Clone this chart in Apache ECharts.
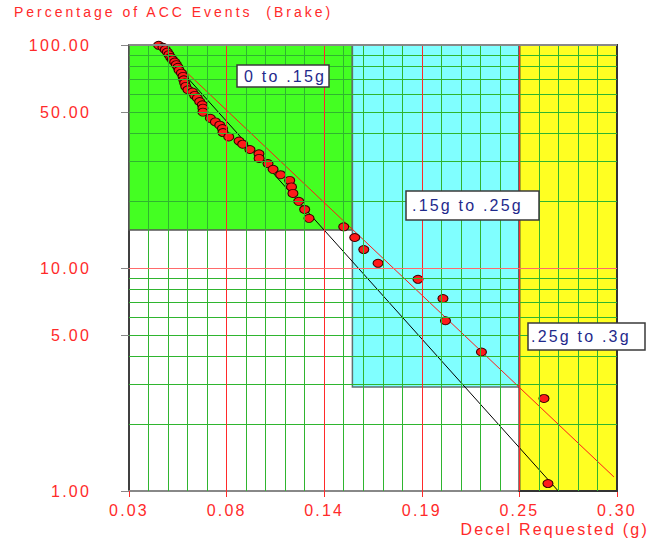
<!DOCTYPE html>
<html>
<head>
<meta charset="utf-8">
<script src="https://cdn.jsdelivr.net/npm/echarts@6/dist/echarts.min.js"></script>
<style>
html,body{margin:0;padding:0;background:#fff;}
#main{width:662px;height:539px;}
#main text{letter-spacing:2.2px;white-space:pre;}
#main text[style*="14px"]{letter-spacing:3px;}
</style>
</head>
<body>
<div id="main"></div>
<script>
// 坐标刻度
var xTicks = [0.03, 0.084, 0.138, 0.192, 0.246, 0.30];
var xMinorPerMajor = 5;
var yLabelValues = [1, 5, 10, 50, 100];
var yMinor = [2, 3, 4, 5, 6, 7, 8, 9, 20, 30, 40, 50, 60, 70, 80, 90];

// 数据点 (减速度 g, 百分比)
var decel = [0.0464, 0.0488, 0.0501, 0.0512, 0.0521, 0.0531, 0.0540, 0.0553, 0.0562, 0.0571,
             0.0577, 0.0590, 0.0599, 0.0603, 0.0608, 0.0614, 0.0626, 0.0651, 0.0664, 0.0678,
             0.0691, 0.0706, 0.0709, 0.0709, 0.0750, 0.0778, 0.0802, 0.0817, 0.0820, 0.0852,
             0.0909, 0.0929, 0.0969, 0.1019, 0.1020, 0.1069, 0.1097, 0.1139, 0.1189, 0.1199,
             0.1207, 0.1239, 0.1272, 0.1296, 0.1488, 0.1549, 0.1599, 0.1678, 0.1899, 0.2037,
             0.2051, 0.2250, 0.2596, 0.2618];
var pct = [99.7, 97.6, 95.3, 93.0, 90.5, 88.0, 85.9, 83.9, 81.6, 79.4,
           77.0, 74.8, 72.3, 69.8, 67.5, 65.2, 63.0, 61.5, 59.4, 57.8,
           55.8, 53.9, 52.1, 50.0, 46.9, 45.2, 43.7, 42.2, 40.5, 38.7,
           37.1, 35.9, 34.0, 32.5, 31.0, 29.4, 27.7, 26.2, 24.7, 23.1,
           21.6, 19.9, 18.3, 16.7, 15.3, 13.7, 12.1, 10.5, 8.9, 7.3,
           5.8, 4.2, 2.6, 1.08];

// 拟合线
var fitBlackX = [0.0461, 0.2675];
var fitBlackY = [100, 1];
var fitRedX = [0.0459, 0.2983];
var fitRedY = [100, 1.156];

// 区域
var zoneLabels = ['0 to .15g', '.15g to .25g', '.25g to .3g'];
var zoneFrom = [0.03, 0.1536, 0.246];
var zoneTo = [0.1536, 0.246, 0.30];
var zoneFloor = [14.8, 2.93, 1];
var zoneTop = 100;

var RED = '#ff2a2a';
var GREEN = '#2fb52f';
var FONT = 'Liberation Sans';
var xMin = xTicks[0], xMax = xTicks[xTicks.length - 1];

var zoneColors = ['#44ff22', '#80ffff', '#ffff22'];
var zoneBorders = ['#555555', '#607070', '#333333'];

function seg(x1, y1, x2, y2, color, width) {
    return [{coord: [x1, y1], lineStyle: {color: color, width: width, type: 'solid'}}, {coord: [x2, y2]}];
}

// 网格线
var gridLines = [];
for (var i = 0; i < xTicks.length - 1; i++) {
    var step = (xTicks[i + 1] - xTicks[i]) / xMinorPerMajor;
    for (var k = 1; k < xMinorPerMajor; k++) {
        var xv = xTicks[i] + step * k;
        gridLines.push(seg(xv, 1, xv, 100, GREEN, 1));
    }
}
yMinor.forEach(function (v) {
    gridLines.push(seg(xMin, v, xMax, v, GREEN, 1));
});
for (var j = 1; j < xTicks.length - 1; j++) {
    gridLines.push(seg(xTicks[j], 1, xTicks[j], 100, RED, 1));
}
gridLines.push(seg(xMin, 10, xMax, 10, '#ff6a6a', 1));
gridLines.push(seg(xMin, 100, xMax, 100, '#888888', 2));

var zoneAreas = zoneLabels.map(function (name, i) {
    return [{
        coord: [zoneFrom[i], zoneFloor[i]],
        itemStyle: {color: zoneColors[i], borderColor: zoneBorders[i], borderWidth: i === 2 ? 2 : 1.5}
    }, {coord: [zoneTo[i], zoneTop]}];
});

var boxPos = [[237, 65, 92, 22, 7], [406, 191, 133, 29, 6], [528, 323, 117, 27, 3]];
var boxes = zoneLabels.map(function (t, i) {
    var b = boxPos[i];
    return {
        type: 'group', x: b[0], y: b[1],
        children: [
            {type: 'rect', z: 100, shape: {x: 0, y: 0, width: b[2], height: b[3]},
             style: {fill: '#ffffff', stroke: '#3a3a3a', lineWidth: 1.5}},
            {type: 'text', z: 101, x: b[4], y: b[3] / 2,
             style: {text: t, fill: '#1f2a8c', fontSize: 16, fontFamily: FONT, verticalAlign: 'middle', align: 'left'}}
        ]
    };
});

var chart = echarts.init(document.getElementById('main'), null, {renderer: 'svg'});
var option = {
    animation: false,
    textStyle: {fontFamily: FONT},
    title: {
        text: 'Percentage of ACC Events  (Brake)',
        left: 9, top: 0,
        textStyle: {color: RED, fontSize: 14, fontWeight: 'normal', fontFamily: FONT}
    },
    grid: {left: 129, right: 45, top: 45, bottom: 48},
    xAxis: {
        type: 'value', min: xMin, max: xMax,
        name: 'Decel Requested (g)',
        nameLocation: 'end', nameGap: 32,
        nameTextStyle: {color: RED, fontSize: 16, fontFamily: FONT, align: 'right',
                        verticalAlign: 'top', padding: [30, 0, 0, 0]},
        axisLine: {onZero: false, lineStyle: {color: '#888888', width: 2}},
        axisTick: {customValues: xTicks, length: 6, lineStyle: {color: RED}},
        axisLabel: {customValues: xTicks, margin: 11, color: RED, fontSize: 16, fontFamily: FONT,
                    formatter: function (v) { return v.toFixed(2); }},
        splitLine: {show: false}
    },
    yAxis: {
        type: 'log', logBase: 10, min: 1, max: 100,
        axisLine: {show: true, lineStyle: {color: '#000000', width: 1.5}},
        axisTick: {show: true, customValues: yLabelValues, length: 8, lineStyle: {color: '#888888'}},
        axisLabel: {show: true, customValues: yLabelValues, margin: 38, color: RED, fontSize: 16,
                    fontFamily: FONT, formatter: function (v) { return Number(v).toFixed(2); }},
        splitLine: {show: false}
    },
    graphic: boxes,
    series: [
        {
            name: 'zones', type: 'line', data: [], z: 1, silent: true,
            markArea: {silent: true, data: zoneAreas}
        },
        {
            name: 'grid', type: 'line', data: [], z: 2, silent: true,
            markLine: {silent: true, symbol: ['none', 'none'], animation: false,
                       label: {show: false}, lineStyle: {type: 'solid'}, data: gridLines}
        },
        {
            name: 'fit', type: 'line', z: 3, symbol: 'none', silent: true,
            lineStyle: {color: '#000000', width: 1},
            data: fitBlackX.map(function (x, i) { return [x, fitBlackY[i]]; })
        },
        {
            name: 'fit2', type: 'line', z: 3, symbol: 'none', silent: true,
            lineStyle: {color: '#ff1a1a', width: 1},
            data: fitRedX.map(function (x, i) { return [x, fitRedY[i]]; })
        },
        {
            name: 'events', type: 'scatter', z: 4,
            symbol: 'circle', symbolSize: [10, 8],
            itemStyle: {color: '#ff1a1a', borderColor: '#3a0000', borderWidth: 1, opacity: 1},
            data: decel.map(function (x, i) { return [x, pct[i]]; })
        }
    ]
};
chart.setOption(option);
</script>
</body>
</html>
